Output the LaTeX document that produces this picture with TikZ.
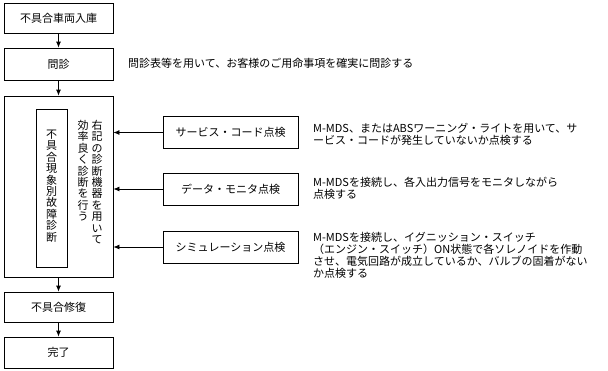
\documentclass[tikz,border=0pt]{standalone}
\usepackage{fontspec}
\setmainfont{Noto Sans CJK JP}
\usetikzlibrary{arrows.meta}
\begin{document}
\begin{tikzpicture}[x=1pt,y=-1pt,
  font=\fontsize{11}{12}\selectfont,
  flowbox/.style={draw=black,line width=0.8pt,minimum width=109pt,inner sep=0pt},
  chkbox/.style={draw=black,line width=0.8pt,minimum width=135pt,minimum height=32pt,inner sep=0pt},
  vtext/.style={align=center,inner sep=0pt,font=\fontsize{11}{11.4}\selectfont},
  desc/.style={anchor=west,align=left,inner sep=0pt,font=\fontsize{11}{12}\selectfont},
  arr/.style={line width=0.8pt,-{Latex[length=6pt,width=5pt]}}]
\useasboundingbox (0,0) rectangle (608,370);
\node[flowbox,minimum height=30pt] (b1) at (58.5,18) {不具合車両入庫};
\node[flowbox,minimum height=32pt] (b2) at (58.5,64) {問診};
\node[flowbox,minimum height=181pt] (big) at (58.5,186.5) {};
\node[draw=black,line width=0.8pt,minimum width=31pt,minimum height=158pt,inner sep=0pt] (inner) at (51.5,188) {};
\node[vtext] (innertext) at (51.5,186) {不\\具\\合\\現\\象\\別\\故\\障\\診\\断};
\node[vtext,anchor=north] (col1) at (97,120) {右\\記\\の\\診\\断\\機\\器\\を\\用\\い\\て};
\node[vtext,anchor=north] (col2) at (83,120) {効\\率\\良\\く\\診\\断\\を\\行\\う};
\node[flowbox,minimum height=30pt] (b4) at (58.5,307) {不具合修復};
\node[flowbox,minimum height=31pt] (b5) at (58.5,352.5) {完了};
\node[chkbox] (c1) at (230.5,132.5) {サービス・コード点検};
\node[chkbox] (c2) at (230.5,189) {データ・モニタ点検};
\node[chkbox] (c3) at (230.5,247) {シミュレーション点検};
\node[desc] (t0) at (128,63) {問診表等を用いて、お客様のご用命事項を確実に問診する};
\node[desc] (t1) at (313,134.5) {M-MDS、またはABSワーニング・ライトを用いて、サ\\ービス・コードが発生していないか点検する};
\node[desc] (t2) at (313,188) {M-MDSを接続し、各入出力信号をモニタしながら\\点検する};
\node[desc] (t3) at (313,255) {M-MDSを接続し、イグニッション・スイッチ\\（エンジン・スイッチ）ON状態で各ソレノイドを作動\\させ、電気回路が成立しているか、バルブの固着がない\\か点検する};
\draw[arr] (b1) -- (b2);
\draw[arr] (b2) -- (big);
\draw[arr] (big) -- (b4);
\draw[arr] (b4) -- (b5);
\draw[arr] (c1.west) -- (c1.west -| big.east);
\draw[arr] (c2.west) -- (c2.west -| big.east);
\draw[arr] (c3.west) -- (c3.west -| big.east);
\end{tikzpicture}
\end{document}
